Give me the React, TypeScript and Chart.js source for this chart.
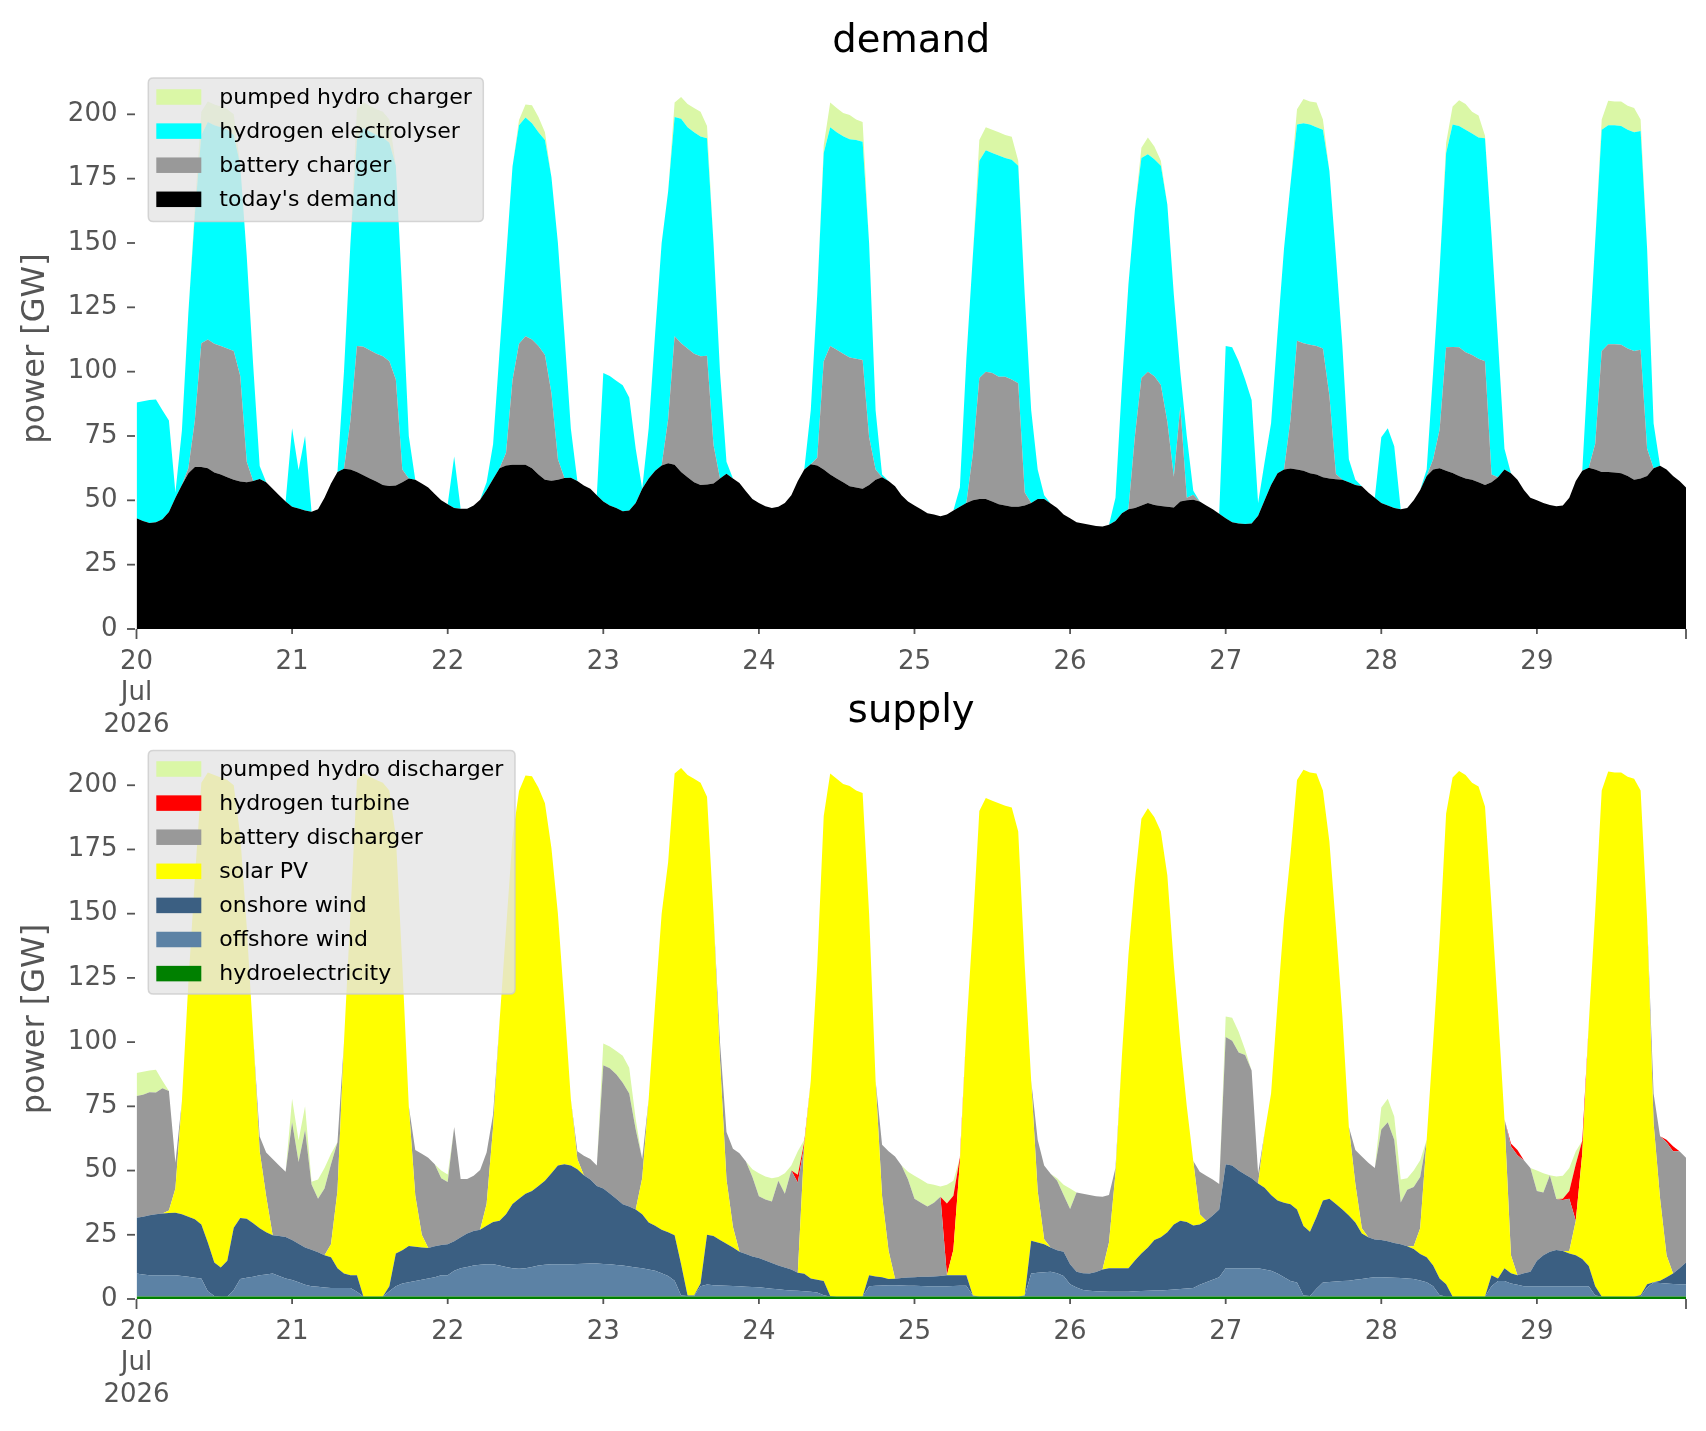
import { useEffect, useRef } from 'react';
import { Chart, registerables } from 'chart.js';

Chart.register(...registerables);

// One value per hour, 2026-07-20 00:00 .. 2026-07-29 23:00 (GW)
const hours = Array.from({ length: 240 }, (_, i) => i);
const dayTickHours = [0, 24, 48, 72, 96, 120, 144, 168, 192, 216, 239];
const dayTickLabels: (string | string[])[] = [['20', 'Jul', '2026'], '21', '22', '23', '24', '25', '26', '27', '28', '29', ''];
const yTickValues = [0, 25, 50, 75, 100, 125, 150, 175, 200];

// ---------- demand side ----------
const todaysDemand = [
  43, 42, 41.2, 41.5, 42.6, 45.5, 51, 56, 60.5, 63, 63, 62.5, 60.8, 60, 59, 58, 57.3, 57, 57.5, 58.3, 57, 54.5, 52, 49.5,
  47.5, 46.8, 46, 45.6, 46.5, 51, 56.5, 61, 62.3, 62, 61, 59.7, 58.5, 57.3, 56, 55.6, 55.8, 57, 58.5, 58, 56.5, 55, 52.5, 50,
  48.5, 47, 46.7, 46.7, 48, 50.2, 54, 58.3, 62.5, 63.5, 63.8, 63.8, 63.8, 62.5, 60, 58, 57.6, 58, 58.7, 58.8, 57.5, 55.8, 54.5, 52,
  49.5, 48, 47, 45.8, 46, 49, 54.5, 58.5, 61.5, 63.5, 64.4, 63.8, 61, 59, 57, 56, 56.2, 56.5, 58.5, 60.3, 58.5, 56.7, 53.5, 50.5,
  49, 47.7, 47, 47.5, 49, 52, 57.5, 62, 64, 63.5, 62, 60, 58.5, 57, 55.5, 55, 54.5, 56, 58, 59, 57.5, 55.5, 52, 49.5,
  48, 46.5, 45, 44.5, 43.8, 44.5, 46, 47.5, 49, 50, 50.5, 50.5, 49.5, 48.5, 48, 47.5, 47.5, 48, 49, 50.5, 50.5, 48.8, 47, 44.5,
  43, 41.5, 41, 40.5, 40, 39.8, 40.5, 42, 45, 46.5, 47, 48, 49, 48.2, 47.8, 47.5, 47.2, 49.5, 50, 50.2, 49.5, 48, 46.5, 44.8,
  43, 41.5, 41, 40.8, 41, 44, 50, 56, 60.5, 62, 62.4, 62, 61.5, 60.5, 60, 59, 58.5, 58.2, 58, 57, 56, 55.5, 53, 51,
  49, 48, 47, 46.5, 47, 50, 54, 59.5, 62, 62.5, 61.5, 60.6, 59.5, 58.5, 58, 57, 56, 57, 59, 62, 60.5, 58, 54, 51,
  50, 49, 48.2, 47.7, 48, 51, 57.5, 61.5, 62.7, 62, 61, 61, 60.8, 60.5, 59.5, 58, 58.5, 59.5, 62.5, 63.4, 62, 59.5, 57.5, 55,
];
const batteryCharger = [
  0, 0, 0, 0, 0, 0, 0, 0, 2, 18, 48, 50, 50, 50, 50, 50, 41, 8, 0, 0, 0, 0, 0, 0,
  0, 0, 0, 0, 0, 0, 0, 0, 0, 19, 49, 50, 49.8, 49.7, 50, 48.4, 41.2, 5, 0, 0, 0, 0, 0, 0,
  0, 0, 0, 0, 0, 0, 0, 0, 0, 5, 33, 47, 50, 50, 50, 48.5, 34, 8, 0, 0, 0, 0, 0, 0,
  0, 0, 0, 0, 0, 0, 0, 0, 0, 0, 17, 50, 50, 50, 50, 50, 50, 15, 0, 0, 0, 0, 0, 0,
  0, 0, 0, 0, 0, 0, 0, 0, 0, 3, 42, 50, 50, 50, 50, 50, 50, 18.5, 4, 0, 0, 0, 0, 0,
  0, 0, 0, 0, 0, 0, 0, 0, 0, 18, 47, 49.5, 50, 49.5, 50, 49.5, 48, 5, 0, 0, 0, 0, 0, 0,
  0, 0, 0, 0, 0, 0, 0, 0, 0, 0, 28, 49.5, 51, 50, 47, 33, 12, 37, 1, 2, 0, 0, 0, 0,
  0, 0, 0, 0, 0, 0, 0, 0, 0, 0, 19, 50, 49.5, 50, 50, 50, 32, 2, 0, 0, 0, 0, 0, 0,
  0, 0, 0, 0, 0, 0, 0, 0, 4, 15, 48, 49, 50, 49, 48.5, 48, 48, 3, 0, 0, 0, 0, 0, 0,
  0, 0, 0, 0, 0, 0, 0, 0, 0, 10, 47, 49.7, 49.9, 50, 49.5, 50, 50, 10.5, 0, 0, 0, 0, 0, 0,
];
const hydrogenElectrolyser = [
  45, 46.5, 47.8, 47.7, 42.4, 35.5, 2, 21, 60.5, 80, 81, 84.5, 85, 85, 85, 84, 82, 80, 45, 5, 0, 0, 0, 0,
  30.5, 15, 29, 0, 0, 0, 0, 0, 37.7, 69, 80, 85, 85, 85, 85, 85, 83, 68, 16.5, 0, 0, 0, 0, 0,
  0, 20, 0, 0, 0, 0, 3, 13.5, 45.5, 75.5, 83, 85, 85, 84, 83, 83.5, 84, 84, 56, 19, 0, 0, 0, 0,
  50, 50.3, 49.5, 48.9, 44, 21, 0, 19.5, 53.5, 86.5, 88.6, 85.2, 87.3, 86, 86, 85.4, 84.5, 78.5, 41.5, 4.7, 0, 0, 0, 0,
  0, 0, 0, 0, 0, 0, 0, 0, 21, 63.5, 81, 85, 84.5, 84.5, 84.8, 85, 84.8, 75.5, 23, 1, 0, 0, 0, 0,
  0, 0, 0, 0, 0, 0, 0, 7.5, 56, 77, 84.5, 86, 85.5, 86, 85, 85.3, 84.5, 77, 36, 11.5, 1.5, 0, 0, 0,
  0, 0, 0, 0, 0, 0, 0, 9, 50, 87.5, 88, 85.5, 84.5, 84.3, 85.2, 84.5, 70.8, 13.5, 24, 1.5, 0, 0, 0, 0,
  67, 68, 63, 56.2, 48, 5, 14.8, 24, 54.5, 86, 91.6, 84, 85.5, 85.5, 85, 85, 87.5, 84.8, 52, 9, 2, 0, 0, 0,
  25.5, 30, 24, 0, 0, 0, 0, 2.5, 34, 62.5, 75.5, 86.4, 86, 86.5, 86, 86, 86.7, 93, 53, 8, 0, 0, 0, 0,
  0, 0, 0, 0, 0, 0, 0, 0, 44.3, 79, 86, 85.1, 85.1, 85, 85, 85, 85, 78, 17.5, 0, 0, 0, 0, 0,
];
const pumpedHydroCharger = [
  0, 0, 0, 0, 0, 0, 0, 0, 0, 3, 9, 8, 8, 8, 8, 8, 0, 0, 0, 0, 0, 0, 0, 0,
  0, 0, 0, 0, 0, 0, 0, 0, 0, 0, 12, 10, 10, 10, 10, 9, 0, 0, 0, 0, 0, 0, 0, 0,
  0, 0, 0, 0, 0, 0, 0, 0, 0, 0, 0, 2, 5, 7, 6, 3, 0, 0, 0, 0, 0, 0, 0, 0,
  0, 0, 0, 0, 0, 0, 0, 0, 0, 0, 0, 5.6, 8.4, 9, 9.5, 9.6, 4.8, 0, 0, 0, 0, 0, 0, 0,
  0, 0, 0, 0, 0, 0, 0, 0, 0, 0, 3, 9.6, 9.5, 9, 9.4, 8, 7.7, 0, 0, 0, 0, 0, 0, 0,
  0, 0, 0, 0, 0, 0, 0, 0, 0, 0, 8, 9, 9, 9, 9, 9, 2, 0, 0, 0, 0, 0, 0, 0,
  0, 0, 0, 0, 0, 0, 0, 0, 0, 0, 0, 4, 6.5, 5, 2, 0, 0, 0, 0, 0, 0, 0, 0, 0,
  0, 0, 0, 0, 0, 0, 0, 0, 0, 0, 0, 6, 9.5, 9, 9.6, 4, 0, 0, 0, 0, 0, 0, 0, 0,
  0, 0, 0, 0, 0, 0, 0, 0, 0, 0, 4, 7, 10, 10, 8.5, 8.5, 1, 0, 0, 0, 0, 0, 0, 0,
  0, 0, 0, 0, 0, 0, 0, 0, 0, 0, 4, 9.5, 9.2, 9.5, 9.3, 9.5, 4.5, 0, 0, 0, 0, 0, 0, 0,
];

// ---------- supply side ----------
const hydroelectricity = [
  1, 1, 1, 1, 1, 1, 1, 1, 1, 1, 1, 1, 1, 1, 1, 1, 1, 1, 1, 1, 1, 1, 1, 1,
  1, 1, 1, 1, 1, 1, 1, 1, 1, 1, 1, 1, 1, 1, 1, 1, 1, 1, 1, 1, 1, 1, 1, 1,
  1, 1, 1, 1, 1, 1, 1, 1, 1, 1, 1, 1, 1, 1, 1, 1, 1, 1, 1, 1, 1, 1, 1, 1,
  1, 1, 1, 1, 1, 1, 1, 1, 1, 1, 1, 1, 1, 1, 1, 1, 1, 1, 1, 1, 1, 1, 1, 1,
  1, 1, 1, 1, 1, 1, 1, 1, 1, 1, 1, 1, 1, 1, 1, 1, 1, 1, 1, 1, 1, 1, 1, 1,
  1, 1, 1, 1, 1, 1, 1, 1, 1, 1, 1, 1, 1, 1, 1, 1, 1, 1, 1, 1, 1, 1, 1, 1,
  1, 1, 1, 1, 1, 1, 1, 1, 1, 1, 1, 1, 1, 1, 1, 1, 1, 1, 1, 1, 1, 1, 1, 1,
  1, 1, 1, 1, 1, 1, 1, 1, 1, 1, 1, 1, 1, 1, 1, 1, 1, 1, 1, 1, 1, 1, 1, 1,
  1, 1, 1, 1, 1, 1, 1, 1, 1, 1, 1, 1, 1, 1, 1, 1, 1, 1, 1, 1, 1, 1, 1, 1,
  1, 1, 1, 1, 1, 1, 1, 1, 1, 1, 1, 1, 1, 1, 1, 1, 1, 1, 1, 1, 1, 1, 1, 1,
];
const offshoreWind = [
  8.9, 8.5, 8.2, 8.2, 8.2, 8.2, 8.2, 8, 7.7, 7.3, 7, 2, 0.2, 0, 0, 2.5, 6.8, 7.3, 7.7, 8.2, 8.5, 8.9, 8, 7,
  6.4, 5.5, 4.5, 4, 3.8, 3.5, 3.3, 3.3, 3.3, 3.3, 1.8, 0, 0, 0, 0, 2, 4, 5, 5.5, 6, 6.5, 7, 7.5, 8.2,
  8.2, 10, 11, 11.5, 12, 12.3, 12.5, 12.5, 12, 11.5, 11, 10.8, 11, 11.5, 12, 12.3, 12.5, 12.5, 12.5, 12.5, 12.6, 12.7, 12.8, 12.8,
  12.6, 12.5, 12.2, 12, 11.7, 11.3, 11, 10.5, 10, 9, 8, 6.1, 0.4, 0.2, 0.2, 4, 4.6, 4.4, 4.3, 4.2, 4.1, 4, 3.8, 3.7,
  3.6, 3.3, 3, 2.8, 2.5, 2.3, 2.2, 2, 1.8, 1.5, 0.5, 0, 0, 0, 0, 0, 0, 4, 4.2, 4.3, 4.4, 4.4, 4.3, 4.2,
  4.2, 4.1, 4, 4, 4, 4, 4.1, 4.2, 4.2, 0.4, 0, 0, 0, 0, 0, 0, 0, 0.4, 8.9, 9.2, 9.4, 9.6, 9, 8,
  4.7, 3.5, 2.5, 2.2, 2, 1.9, 1.8, 1.8, 1.8, 1.8, 2, 2.1, 2.2, 2.3, 2.3, 2.5, 2.7, 2.9, 3.1, 3.3, 4.5, 5.5, 6.5, 7.5,
  11, 11, 11, 11, 11, 11, 10.5, 10, 8.9, 7.5, 6, 5.4, 0.4, 0.2, 3, 5.4, 5.6, 5.8, 6, 6.1, 6.5, 6.8, 7.2, 7.5,
  7.5, 7.4, 7.3, 7.2, 7, 6.8, 6.2, 5.5, 4, 0.5, 0, 0, 0, 0, 0, 0, 0, 4, 6, 6, 5, 4.5, 4, 4,
  4, 4, 4, 4, 4, 4, 4, 4, 4, 0.4, 0, 0, 0, 0, 0, 0, 0, 3.5, 5.4, 5.2, 5, 4.8, 4.7, 4.7,
];
const onshoreWind = [
  21.7, 22.5, 23.4, 23.8, 24.1, 24.3, 24.4, 24, 23.3, 22.7, 21, 19, 13, 11.3, 13.9, 24.2, 23.7, 22.9, 20.8, 18.3, 16.5, 14.9, 15.5, 16.1,
  15.6, 15, 14.5, 14.2, 13.4, 12.5, 12, 7.7, 5.6, 4.9, 6.4, 0, 0, 0, 0, 2, 12.7, 13, 14.1, 13.3, 12.5, 11.9, 12, 11.8,
  12.1, 11.5, 12, 13, 13.5, 13.7, 15, 16.5, 17.5, 20.5, 25, 27.2, 29, 29.5, 31, 32.7, 35.5, 38.5, 39, 38.5, 36.9, 34.5, 32.7, 30.2,
  29.4, 27.6, 25.8, 23.9, 23.3, 22.5, 21, 18.3, 17.5, 17, 17, 17.7, 12.1, 0.2, 0.2, 1, 19.4, 19.1, 17.7, 16.3, 14.9, 13.4, 12.7, 11.8,
  11.4, 10.7, 10, 9.2, 8.8, 8.2, 7, 6.8, 5.2, 5, 5.5, 0.2, 0, 0, 0, 0, 0, 4.2, 3.6, 3.2, 2.4, 2.5, 2.9, 3.2,
  3.3, 3.6, 3.7, 3.8, 4, 4.2, 4.1, 4, 4, 0, 0, 0, 0, 0, 0, 0, 0, 0, 12.8, 11.8, 10.9, 9.4, 9, 9.4,
  7.8, 6.1, 6.5, 6.7, 7.5, 8.6, 9.2, 9.2, 9.2, 9.2, 12, 14.6, 16.8, 19.7, 20.7, 22.5, 25.3, 26.6, 25.9, 24.3, 23.5, 24, 25, 26.3,
  40.5, 40, 38, 36.5, 35, 33, 31.8, 29.5, 28.4, 29, 29.9, 28.4, 27, 25, 27.9, 31.9, 32.4, 30.2, 27.8, 25.4, 22.3, 17.7, 15.8, 14.7,
  14.5, 14.1, 13.5, 13.1, 12.5, 11.7, 10.3, 9.8, 8, 6.5, 4.7, 0, 0, 0, 0, 0, 0, 4.2, 1, 5, 4, 3.7, 5, 5.6,
  9.9, 12, 13.4, 14.1, 13.7, 12.7, 12, 10.6, 7.8, 3.6, 0, 0, 0, 0, 0, 0, 0.5, 1.2, 0.1, 0.9, 2.5, 4.1, 6.3, 8.5,
];
const solarPV = [
  0, 0, 0, 0, 0, 1, 9.4, 44, 91, 133, 172, 183, 189.8, 190.7, 187.1, 172.3, 148.8, 113.8, 73, 30, 14, 0, 0, 0,
  0, 0, 0, 0, 0, 0, 5, 30, 90.1, 140.8, 192.8, 203.7, 202.3, 201, 200, 193, 162.3, 111, 54.4, 20, 5, 0, 0, 0,
  0, 0, 0, 0, 0, 0, 8.5, 36.8, 77.5, 111, 142.8, 158.8, 162.8, 161.5, 155, 147, 126.6, 98, 62.2, 25.8, 4, 0, 0, 0,
  0, 0, 0, 0, 0, 0, 14, 48.2, 86.5, 123, 144, 179.8, 193.2, 202.6, 201.1, 195, 170.5, 125.5, 70, 25, 8, 0, 0, 0,
  0, 0, 0, 0, 0, 0, 0, 50, 77, 122.5, 181, 203.4, 201.5, 199.5, 198.7, 197, 196, 140.8, 76.2, 31.5, 11, 0, 0, 0,
  0, 0, 0, 0, 0, 0, 10, 44, 95.8, 143.6, 189, 194, 193, 192, 191, 190.3, 181, 128.6, 62.3, 20, 2, 0, 0, 0,
  0, 0, 0, 0, 0, 0, 10, 37, 83, 122, 148, 169.3, 171, 164.5, 158, 139, 101, 69.5, 45, 25.1, 4, 0, 0, 0,
  0, 0, 0, 0, 0, 0, 21.5, 39.5, 76.7, 110.5, 136.1, 167.2, 177.6, 178.8, 172.7, 159.7, 139, 108, 75.2, 34.5, 15, 2, 0, 0,
  0, 0, 0, 0, 0, 1, 10, 45.7, 87, 132, 183.3, 202, 204.5, 203, 200, 198.5, 190.7, 143.8, 104, 58, 7, 0, 0, 0,
  0, 0, 0, 0, 0, 1, 13.5, 41, 94.2, 146, 197, 204.3, 204, 204, 202.3, 201.5, 196.5, 142.3, 62, 32, 8.5, 0, 0, 0,
];
const batteryDischarger = [
  47.4, 47.5, 47.9, 47.4, 48.7, 46.5, 10, 0, 0, 0, 0, 0, 0, 0, 0, 0, 0, 0, 0, 5.8, 17, 29.7, 27.5, 25.4,
  45.8, 31.8, 45.8, 25.4, 20.8, 26, 31.2, 19, 0, 0, 0, 0, 0, 0, 0, 0, 0, 0, 0, 17.7, 31.5, 35.1, 32, 26,
  24.2, 44.5, 22.7, 21.2, 21.5, 23.2, 20, 5, 0, 0, 0, 0, 0, 0, 0, 0, 0, 0, 0, 0, 3, 7.6, 8, 8,
  48, 48.7, 48.5, 47.3, 44, 31.2, 7.5, 0, 0, 0, 0, 0, 0, 0, 0, 0, 0, 0, 7, 18.5, 30.5, 38.3, 36, 31,
  24, 23.7, 24, 33, 28.7, 38.5, 35.2, 0, 0, 0, 0, 0, 0, 0, 0, 0, 0, 0, 0, 20, 38.7, 47.6, 43.8, 38.1,
  30.5, 28.8, 27.3, 28.7, 30.8, 0, 0, 0, 0, 0, 0, 0, 0, 0, 0, 0, 0, 0, 0, 20, 28.7, 28.8, 27, 22.1,
  21.5, 30.9, 31, 30.6, 29.5, 28.3, 18.5, 2, 0, 0, 0, 0, 0, 0, 0, 0, 0, 0, 0, 0, 16.5, 17.5, 14, 10,
  49.5, 48.5, 46, 46.5, 42, 4, 0, 0, 0, 0, 0, 0, 0, 0, 0, 0, 0, 0, 0, 0, 13.2, 28, 29, 27.8,
  43, 46.3, 40.2, 16.3, 22, 23.1, 20, 0, 0, 0, 0, 0, 0, 0, 0, 0, 0, 0, 0, 0, 42.5, 46.8, 44, 40.4,
  27.1, 24.5, 29.8, 19.8, 19.8, 20.3, 0, 0, 0, 0, 0, 0, 0, 0, 0, 0, 0, 0, 11.5, 24.3, 44, 47.6, 45.5, 40.8,
];
const hydrogenTurbine = [
  0, 0, 0, 0, 0, 0, 0, 0, 0, 0, 0, 0, 0, 0, 0, 0, 0, 0, 0, 0, 0, 0, 0, 0,
  0, 0, 0, 0, 0, 0, 0, 0, 0, 0, 0, 0, 0, 0, 0, 0, 0, 0, 0, 0, 0, 0, 0, 0,
  0, 0, 0, 0, 0, 0, 0, 0, 0, 0, 0, 0, 0, 0, 0, 0, 0, 0, 0, 0, 0, 0, 0, 0,
  0, 0, 0, 0, 0, 0, 0, 0, 0, 0, 0, 0, 0, 0, 0, 0, 0, 0, 0, 0, 0, 0, 0, 0,
  0, 0, 0, 0, 0, 0, 3, 1.2, 0, 0, 0, 0, 0, 0, 0, 0, 0, 0, 0, 0, 0, 0, 0, 0,
  0, 0, 0, 0, 0, 28, 21, 1.8, 0, 0, 0, 0, 0, 0, 0, 0, 0, 0, 0, 0, 0, 0, 0, 0,
  0, 0, 0, 0, 0, 0, 0, 0, 0, 0, 0, 0, 0, 0, 0, 0, 0, 0, 0, 0, 0, 0, 0, 0,
  0, 0, 0, 0, 0, 0, 0, 0, 0, 0, 0, 0, 0, 0, 0, 0, 0, 0, 0, 0, 0, 0, 0, 0,
  0, 0, 0, 0, 0, 0, 0, 0, 0, 0, 0, 0, 0, 0, 0, 0, 0, 0, 0, 0, 1, 2, 0, 0,
  0, 0, 0, 0, 0.5, 3, 22, 5, 0, 0, 0, 0, 0, 0, 0, 0, 0, 0, 0, 0, 1, 2, 0, 0,
];
const pumpedHydroDischarger = [
  9, 9, 8.5, 8.8, 3, 0, 0, 0, 0, 0, 0, 0, 0, 0, 0, 0, 0, 0, 0, 0, 0, 0, 0, 0,
  9.2, 8.5, 9.2, 1, 7.5, 8, 4, 0, 0, 0, 0, 0, 0, 0, 0, 0, 0, 0, 0, 0, 0, 0, 0, 3,
  3, 0, 0, 0, 0, 0, 0, 0, 0, 0, 0, 0, 0, 0, 0, 0, 0, 0, 0, 0, 0, 0, 0, 0,
  8.5, 8.5, 9, 10.5, 10, 4, 0, 0, 0, 0, 0, 0, 0, 0, 0, 0, 0, 0, 0, 0, 0, 0, 0, 3,
  9, 9, 9, 1.5, 8, 2, 9.1, 1, 0, 0, 0, 0, 0, 0, 0, 0, 0, 0, 0, 0, 0, 0, 0, 3,
  9, 9, 9, 7, 4, 7.3, 5.8, 0, 0, 0, 0, 0, 0, 0, 0, 0, 0, 0, 0, 0, 0, 0, 1, 4,
  8, 0, 0, 0, 0, 0, 0, 0, 0, 0, 0, 0, 0, 0, 0, 0, 0, 0, 0, 0, 0, 0, 0, 0,
  8, 9, 8, 2, 0, 0, 0, 0, 0, 0, 0, 0, 0, 0, 0, 0, 0, 0, 0, 0, 0, 0, 0, 0,
  8.5, 9.2, 9, 8.9, 4.5, 6.4, 6.5, 0, 0, 0, 0, 0, 0, 0, 0, 0, 0, 0, 0, 0, 0, 0, 0, 0,
  8, 7.5, 0, 8.8, 9, 9, 5, 0, 0, 0, 0, 0, 0, 0, 0, 0, 0, 0, 0, 0, 0, 0, 0, 0,
];

const FONT = '"DejaVu Sans", "Liberation Sans", sans-serif';
const W = 1706;

type Series = { label: string; color: string; values: number[] };

const demandSeries: Series[] = [
  { label: "today's demand", color: '#000000', values: todaysDemand },
  { label: 'battery charger', color: '#999999', values: batteryCharger },
  { label: 'hydrogen electrolyser', color: '#00ffff', values: hydrogenElectrolyser },
  { label: 'pumped hydro charger', color: '#daf7a6', values: pumpedHydroCharger },
];
const supplySeries: Series[] = [
  { label: 'hydroelectricity', color: '#008000', values: hydroelectricity },
  { label: 'offshore wind', color: '#5c82a5', values: offshoreWind },
  { label: 'onshore wind', color: '#3b5f82', values: onshoreWind },
  { label: 'solar PV', color: '#ffff00', values: solarPV },
  { label: 'battery discharger', color: '#999999', values: batteryDischarger },
  { label: 'hydrogen turbine', color: '#ff0000', values: hydrogenTurbine },
  { label: 'pumped hydro discharger', color: '#daf7a6', values: pumpedHydroDischarger },
];

type Panel = {
  title: string;
  canvasTop: number;
  canvasHeight: number;
  areaTop: number;
  areaBottom: number;
  legendBox: { x: number; y: number; w: number; h: number };
  legendFirstRow: number;
  legendStep: number;
};

function roundRect(ctx: CanvasRenderingContext2D, x: number, y: number, w: number, h: number, r: number) {
  ctx.beginPath();
  ctx.moveTo(x + r, y);
  ctx.lineTo(x + w - r, y);
  ctx.quadraticCurveTo(x + w, y, x + w, y + r);
  ctx.lineTo(x + w, y + h - r);
  ctx.quadraticCurveTo(x + w, y + h, x + w - r, y + h);
  ctx.lineTo(x + r, y + h);
  ctx.quadraticCurveTo(x, y + h, x, y + h - r);
  ctx.lineTo(x, y + r);
  ctx.quadraticCurveTo(x, y, x + r, y);
  ctx.closePath();
}

function StackPanel({ series, panel }: { series: Series[]; panel: Panel }) {
  const ref = useRef<HTMLCanvasElement>(null);
  useEffect(() => {
    if (!ref.current) return;
    const datasets = series.map((s, idx) => ({
      label: s.label,
      data: s.values.map((v, i) => ({ x: hours[i], y: v })),
      backgroundColor: s.color,
      borderColor: 'rgba(0,0,0,0)',
      borderWidth: 0,
      pointRadius: 0,
      tension: 0,
      fill: idx === 0 ? 'origin' : '-1',
    }));
    const legendItems = [...series].reverse();
    const decor = {
      id: 'decor',
      afterDraw(chart: any) {
        const { ctx, chartArea: a, scales } = chart;
        ctx.save();
        // tick marks
        ctx.strokeStyle = '#555555';
        ctx.lineWidth = 1.8;
        yTickValues.forEach((v) => {
          const y = scales.y.getPixelForValue(v);
          ctx.beginPath();
          ctx.moveTo(a.left - 9.5, y);
          ctx.lineTo(a.left - 1.5, y);
          ctx.stroke();
        });
        dayTickHours.forEach((v) => {
          const x = scales.x.getPixelForValue(v);
          const len = v === 0 || v === 239 ? 10 : 5;
          ctx.beginPath();
          ctx.moveTo(x, a.bottom);
          ctx.lineTo(x, a.bottom + len);
          ctx.stroke();
        });
        // title
        ctx.fillStyle = '#000000';
        ctx.font = `38.5px ${FONT}`;
        ctx.textAlign = 'center';
        ctx.textBaseline = 'alphabetic';
        ctx.fillText(panel.title, (a.left + a.right) / 2, 51.5);
        // y axis label
        ctx.save();
        ctx.translate(36, (a.top + a.bottom) / 2);
        ctx.rotate(-Math.PI / 2);
        ctx.fillStyle = '#555555';
        ctx.font = `32px ${FONT}`;
        ctx.textAlign = 'center';
        ctx.textBaseline = 'middle';
        ctx.fillText('power [GW]', 0, 0);
        ctx.restore();
        // legend
        const b = panel.legendBox;
        roundRect(ctx, b.x, b.y, b.w, b.h, 5);
        ctx.fillStyle = 'rgba(229,229,229,0.8)';
        ctx.fill();
        ctx.strokeStyle = 'rgba(204,204,204,0.8)';
        ctx.lineWidth = 1.5;
        ctx.stroke();
        ctx.font = `22px ${FONT}`;
        ctx.textAlign = 'left';
        ctx.textBaseline = 'middle';
        legendItems.forEach((s, i) => {
          const cy = panel.legendFirstRow + i * panel.legendStep;
          ctx.fillStyle = s.color;
          ctx.fillRect(b.x + 8, cy - 7.75, 45, 15.5);
          ctx.fillStyle = '#000000';
          ctx.fillText(s.label, b.x + 71, cy + 1);
        });
        ctx.restore();
      },
    };
    const tickFont = { family: FONT, size: 26, lineHeight: 1.22 };
    const chart = new Chart(ref.current, {
      type: 'line',
      data: { datasets } as any,
      options: {
        responsive: false,
        animation: false,
        devicePixelRatio: 1,
        layout: { padding: { left: 0, right: W - 1686, top: panel.areaTop, bottom: 0 } },
        plugins: { legend: { display: false }, tooltip: { enabled: false }, title: { display: false } },
        elements: { point: { radius: 0 }, line: { tension: 0 } },
        scales: {
          x: {
            type: 'linear',
            min: 0,
            max: 239,
            offset: false,
            grid: { display: false, drawTicks: false },
            border: { display: false },
            ticks: {
              autoSkip: false,
              maxRotation: 0,
              minRotation: 0,
              padding: 17,
              color: '#555555',
              font: tickFont,
              callback: (value: any) => {
                const k = dayTickHours.indexOf(Number(value));
                return k >= 0 ? dayTickLabels[k] : '';
              },
            },
            afterBuildTicks: (s: any) => {
              s.ticks = dayTickHours.map((v) => ({ value: v }));
            },
            afterFit: (s: any) => {
              s.height = panel.canvasHeight - panel.areaBottom;
            },
          },
          y: {
            type: 'linear',
            stacked: true,
            min: 0,
            max: 218,
            grid: { display: false, drawTicks: false },
            border: { display: false },
            ticks: { padding: 19, color: '#555555', font: tickFont },
            afterBuildTicks: (s: any) => {
              s.ticks = yTickValues.map((v) => ({ value: v }));
            },
            afterFit: (s: any) => {
              s.width = 136.5;
            },
          },
        },
      } as any,
      plugins: [decor],
    });
    return () => chart.destroy();
  }, [series, panel]);
  return (
    <canvas
      ref={ref}
      width={W}
      height={panel.canvasHeight}
      style={{ position: 'absolute', left: 0, top: panel.canvasTop, width: W, height: panel.canvasHeight }}
    />
  );
}

const demandPanel: Panel = {
  title: 'demand',
  canvasTop: 0,
  canvasHeight: 750,
  areaTop: 68,
  areaBottom: 629,
  legendBox: { x: 148.3, y: 78, w: 335, h: 143.4 },
  legendFirstRow: 97,
  legendStep: 34.1,
};
const supplyPanel: Panel = {
  title: 'supply',
  canvasTop: 670,
  canvasHeight: 761,
  areaTop: 69,
  areaBottom: 629,
  legendBox: { x: 148.3, y: 80.5, w: 366.7, h: 243.6 },
  legendFirstRow: 99,
  legendStep: 34.1,
};

export default function App() {
  return (
    <div style={{ position: 'absolute', left: 0, top: 0, width: W, height: 1431, background: '#ffffff', overflow: 'hidden' }}>
      <StackPanel series={demandSeries} panel={demandPanel} />
      <StackPanel series={supplySeries} panel={supplyPanel} />
    </div>
  );
}
